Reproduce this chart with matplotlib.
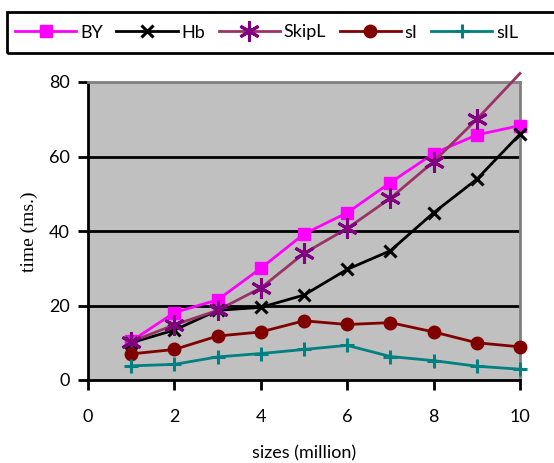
import matplotlib
matplotlib.use("Agg")
import matplotlib.pyplot as plt
from matplotlib.patches import Rectangle

sizes = [1, 2, 3, 4, 5, 6, 7, 8, 9, 10]
by = [10.4, 18.1, 21.5, 30.0, 39.2, 44.9, 53.0, 60.8, 65.8, 68.3]
hb = [10.0, 13.4, 18.7, 19.5, 22.8, 29.7, 34.7, 44.9, 53.9, 66.0]
skipl = [10.3, 14.8, 18.7, 24.7, 34.0, 40.7, 48.8, 58.6, 70.0, 82.3]
si = [7.0, 8.2, 11.8, 12.9, 15.9, 14.9, 15.4, 12.9, 10.0, 8.9]
sil = [3.8, 4.2, 6.2, 7.1, 8.2, 9.3, 6.3, 5.2, 3.7, 2.9]
xticks = [0, 2, 4, 6, 8, 10]
yticks = [0, 20, 40, 60, 80]

sans = ["Lato", "DejaVu Sans"]
plt.rcParams["font.family"] = sans

W, H = 554, 463
fig = plt.figure(figsize=(W/100, H/100), dpi=100)
ax = fig.add_axes([88/W, 1-380/H, (520-88)/W, (380-82)/H])
ax.set_facecolor("#C0C0C0")

for y in yticks[1:-1]:
    ax.axhline(y, color="black", lw=2, zorder=1)

lw = 2.0
ax.plot(sizes, by, color="#FF00FF", lw=lw, marker="s", ms=8.5, mec="#FF00FF",
        mfc="#FF00FF", label="BY", clip_on=False, zorder=3)
ax.plot(sizes, hb, color="black", lw=lw, marker="x", ms=9, mew=2.2,
        label="Hb", clip_on=False, zorder=4)
ax.plot(sizes, skipl, color="#993366", lw=lw, marker=(6, 2, 0), ms=15, mew=2.2,
        mec="#800080", mfc="#800080", markevery=list(range(9)),
        label="SkipL", clip_on=False, zorder=5)
ax.plot(sizes, si, color="#800000", lw=lw, marker="o", ms=9, mec="#800000",
        mfc="#800000", label="sI", clip_on=False, zorder=6)
ax.plot(sizes, sil, color="#008080", lw=lw, marker="+", ms=10, mew=2.2,
        label="sIL", clip_on=False, zorder=7)

ax.set_xlim(0, 10)
ax.set_ylim(0, 80)
ax.set_xticks(xticks)
ax.set_yticks(yticks)
ax.tick_params(axis="both", direction="out", length=7, width=2, labelsize=13,
               colors="black")
ax.tick_params(axis="y", pad=6)
ax.tick_params(axis="x", pad=14)

for s in ["left", "bottom"]:
    ax.spines[s].set_color("black")
    ax.spines[s].set_linewidth(2)
for s in ["top", "right"]:
    ax.spines[s].set_color("#808080")
    ax.spines[s].set_linewidth(2)

ax.set_ylabel("time (ms.)", family=["Liberation Serif", "DejaVu Serif"],
              fontsize=14)
ax.yaxis.set_label_coords(38/W, 1-231.5/H, transform=fig.transFigure)
ax.set_xlabel("sizes (million)", fontsize=13)
ax.xaxis.set_label_coords(304/W, 1-445/H, transform=fig.transFigure)

fig.patches.append(Rectangle((7/W, 1-53/H), 560/W, 41/H, transform=fig.transFigure,
                             fill=False, edgecolor="black", lw=2, clip_on=False))
leg = fig.legend(loc="center left", ncol=5,
                 bbox_to_anchor=(15/W, 1-32.5/H),
                 frameon=False, fontsize=13,
                 handlelength=3.4, handletextpad=0.2, columnspacing=0.75,
                 borderaxespad=0, borderpad=0)

fig.savefig("out.png", dpi=100)
